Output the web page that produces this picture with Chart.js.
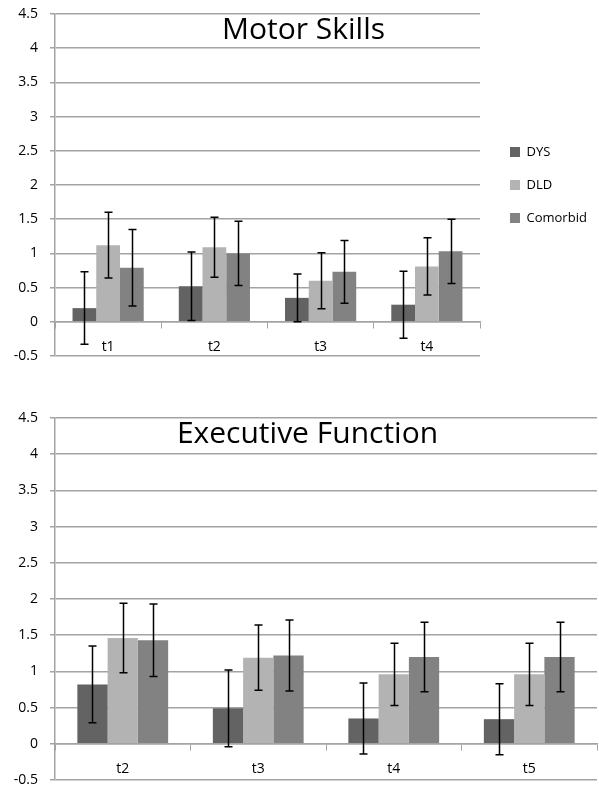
<!DOCTYPE html>
<html>
<head>
<meta charset="utf-8">
<script src="https://cdn.jsdelivr.net/npm/chart.js@4"></script>
<style>
  body { margin: 0; background: #fff; }
  .box { position: absolute; left: 0; }
</style>
</head>
<body>
<div class="box" style="top:0"><canvas id="motor" width="599" height="372"></canvas></div>
<div class="box" style="top:400px"><canvas id="exec" width="599" height="388"></canvas></div>
<script>
// groups and colours
const groups = ["DYS", "DLD", "Comorbid"];
const groupColors = ["#636363", "#b3b3b3", "#828282"];

// Motor Skills (t1..t4): means and error half-lengths
const motorLabels = ["t1", "t2", "t3", "t4"];
const motorDYS = [0.2, 0.52, 0.35, 0.25];
const motorDLD = [1.12, 1.09, 0.6, 0.81];
const motorCom = [0.79, 1.0, 0.73, 1.03];
const motorDYSErr = [0.53, 0.5, 0.35, 0.49];
const motorDLDErr = [0.48, 0.44, 0.41, 0.42];
const motorComErr = [0.56, 0.47, 0.46, 0.47];

// Executive Function (t2..t5)
const execLabels = ["t2", "t3", "t4", "t5"];
const execDYS = [0.82, 0.49, 0.35, 0.34];
const execDLD = [1.46, 1.19, 0.96, 0.96];
const execCom = [1.43, 1.22, 1.2, 1.2];
const execDYSErr = [0.53, 0.53, 0.49, 0.49];
const execDLDErr = [0.48, 0.45, 0.43, 0.43];
const execComErr = [0.5, 0.49, 0.48, 0.48];

const FONT = "'Open Sans', sans-serif";
const GRID = "#a3a3a3";

// title drawn over the plot, centred on the whole chart (Excel overlay title)
const innerTitle = {
  id: 'innerTitle',
  afterDraw(chart, args, opts) {
    const { ctx, chartArea } = chart;
    ctx.save();
    ctx.font = opts.size + "px " + FONT;
    ctx.fillStyle = "#000";
    ctx.textAlign = "center";
    ctx.textBaseline = "alphabetic";
    ctx.fillText(opts.text, chart.width / 2 + opts.shift, chartArea.top + opts.offset);
    ctx.restore();
  }
};

// error bars from dataset.errors
const errorBars = {
  id: 'errorBars',
  afterDatasetsDraw(chart) {
    const ctx = chart.ctx;
    const y = chart.scales.y;
    ctx.save();
    ctx.strokeStyle = "#000";
    ctx.lineWidth = 1.5;
    chart.data.datasets.forEach((ds, i) => {
      chart.getDatasetMeta(i).data.forEach((bar, j) => {
        const hi = y.getPixelForValue(ds.data[j] + ds.errors[j]);
        const lo = y.getPixelForValue(ds.data[j] - ds.errors[j]);
        const x = Math.round(bar.x) + 0.5;
        ctx.beginPath();
        ctx.moveTo(x, hi); ctx.lineTo(x, lo);
        ctx.moveTo(x - 4, hi); ctx.lineTo(x + 4, hi);
        ctx.moveTo(x - 4, lo); ctx.lineTo(x + 4, lo);
        ctx.stroke();
      });
    });
    ctx.restore();
  }
};

function makeChart(id, labels, series, errs, title, shift, withLegend, padding) {
  const datasets = groups.map((g, i) => ({
    label: g,
    data: series[i],
    errors: errs[i],
    backgroundColor: groupColors[i],
    borderWidth: 0,
    categoryPercentage: 0.67,
    barPercentage: 1.0
  }));

  const scales = {
    x: {
      position: { y: 0 },
      afterFit: (s) => { s.height = 0; },
      grid: { offset: true, drawOnChartArea: false, drawTicks: true, tickLength: 6, color: GRID },
      border: { color: GRID, width: 1.5 },
      ticks: { color: "#000", font: { family: FONT, size: 14 }, padding: 11 }
    },
    y: {
      min: -0.5,
      max: 4.5,
      afterFit: (s) => {
        s.width = 55 - padding.left;
        s.paddingTop = 0;
        s.paddingBottom = 0;
      },
      ticks: {
        stepSize: 0.5,
        color: "#000",
        font: { family: FONT, size: 14 },
        padding: 12,
        callback: (v) => String(Math.round(v * 10) / 10)
      },
      grid: { color: GRID, lineWidth: 1.5, tickLength: 5 },
      border: { color: GRID, width: 1.5 }
    }
  };
  if (withLegend) {
    // empty spacer axis between plot and legend
    scales.gap = {
      type: 'linear', position: 'right', display: true,
      afterFit: (s) => { s.width = 10; },
      ticks: { display: false }, grid: { display: false }, border: { display: false }
    };
  }

  return new Chart(document.getElementById(id), {
    type: 'bar',
    data: { labels: labels, datasets: datasets },
    plugins: [errorBars, innerTitle],
    options: {
      responsive: false,
      animation: false,
      layout: { padding: padding },
      scales: scales,
      plugins: {
        innerTitle: { text: title, size: 30, offset: 25, shift: shift },
        tooltip: { enabled: false },
        legend: {
          display: withLegend,
          position: 'right',
          labels: {
            boxWidth: 10,
            boxHeight: 10,
            padding: 20,
            color: "#000",
            font: { family: FONT, size: 13 }
          }
        }
      }
    }
  });
}

document.fonts.load("14px 'Open Sans'").then(function () {

  makeChart("motor", motorLabels,
    [motorDYS, motorDLD, motorCom],
    [motorDYSErr, motorDLDErr, motorComErr],
    "Motor Skills", 4, true,
    { left: 0, top: 14, right: 11, bottom: 16 });

  makeChart("exec", execLabels,
    [execDYS, execDLD, execCom],
    [execDYSErr, execDLDErr, execComErr],
    "Executive Function", 8, false,
    { left: 0, top: 18, right: 2, bottom: 8 });

});
</script>
</body>
</html>
